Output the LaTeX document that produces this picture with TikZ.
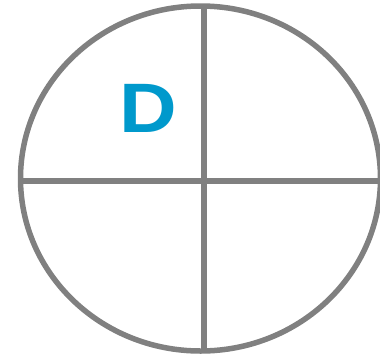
\documentclass[tikz,border=0pt]{standalone}
\usepackage{fontspec}
\setmainfont{Liberation Sans}
\definecolor{ringgray}{HTML}{808080}
\definecolor{letterblue}{HTML}{0099CC}
\tikzset{ring/.style={draw = ringgray, line width = 5.5pt}}
\begin{document}
\begin{tikzpicture} [x = 1pt, y = -1pt]
	\useasboundingbox (0,0) rectangle (380,357);
	\draw [ring] (200.5,178.5) ellipse (180 and 172.5);
	\coordinate (top) at (204,6);
	\coordinate (bottom) at (204,351);
	\coordinate (left) at (20.5,181);
	\coordinate (right) at (380.5,181);
	\draw [ring] (top) -- (bottom);
	\draw [ring] (left) -- (right);
	\node [text = letterblue, font = \fontsize{70}{70}\selectfont\bfseries, inner sep = 0pt, anchor = base, xscale = 1.14] (letter) at (148.5,132.7) {D};
	\end{tikzpicture}
\end{document}
